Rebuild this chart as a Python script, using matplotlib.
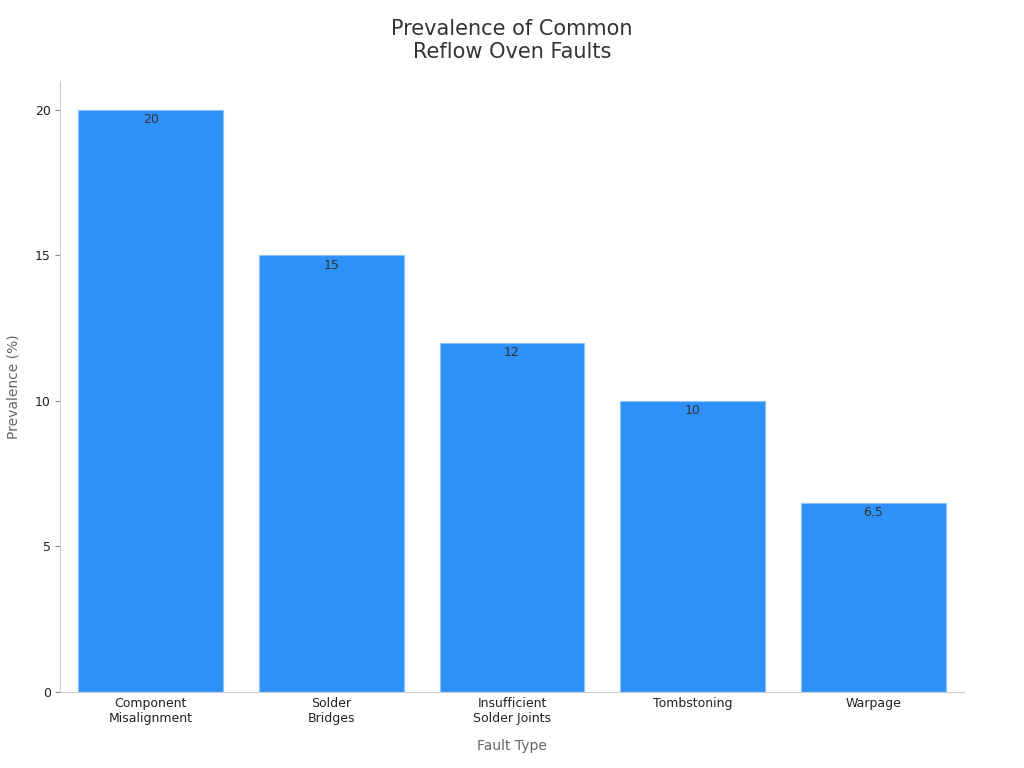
import matplotlib
matplotlib.use("Agg")
import matplotlib.pyplot as plt

categories = ["Component\nMisalignment", "Solder\nBridges", "Insufficient\nSolder Joints", "Tombstoning", "Warpage"]
values = [20, 15, 12, 10, 6.5]
labels = ["20", "15", "12", "10", "6.5"]

fig = plt.figure(figsize=(10.24, 7.68), dpi=100)
ax = fig.add_axes([0.059, 0.099, 0.882, 0.796])
x = range(len(categories))
ax.bar(x, values, width=0.8, color="#2E91F8", edgecolor="#8CC4F8", linewidth=0.8)
for xi, v, l in zip(x, values, labels):
    ax.text(xi, v - 0.12, l, ha="center", va="top", fontsize=9, color="#333333")
ax.set_xlim(-0.5, 4.5)
ax.set_ylim(0, 21)
ax.set_yticks([0, 5, 10, 15, 20])
ax.set_xticks(list(x))
ax.set_xticklabels(categories, fontsize=9, color="#222222")
ax.tick_params(axis="y", labelsize=9, labelcolor="#222222", color="#888888")
ax.tick_params(axis="x", length=0)
for s in ["top", "right"]:
    ax.spines[s].set_visible(False)
for s in ["left", "bottom"]:
    ax.spines[s].set_color("#cccccc")
ax.set_xlabel("Fault Type", fontsize=10, color="#666666", labelpad=10)
ax.set_ylabel("Prevalence (%)", fontsize=10, color="#666666", labelpad=10)
fig.suptitle("Prevalence of Common\nReflow Oven Faults", fontsize=15, color="#333333", y=0.975)
fig.savefig("out.png")
